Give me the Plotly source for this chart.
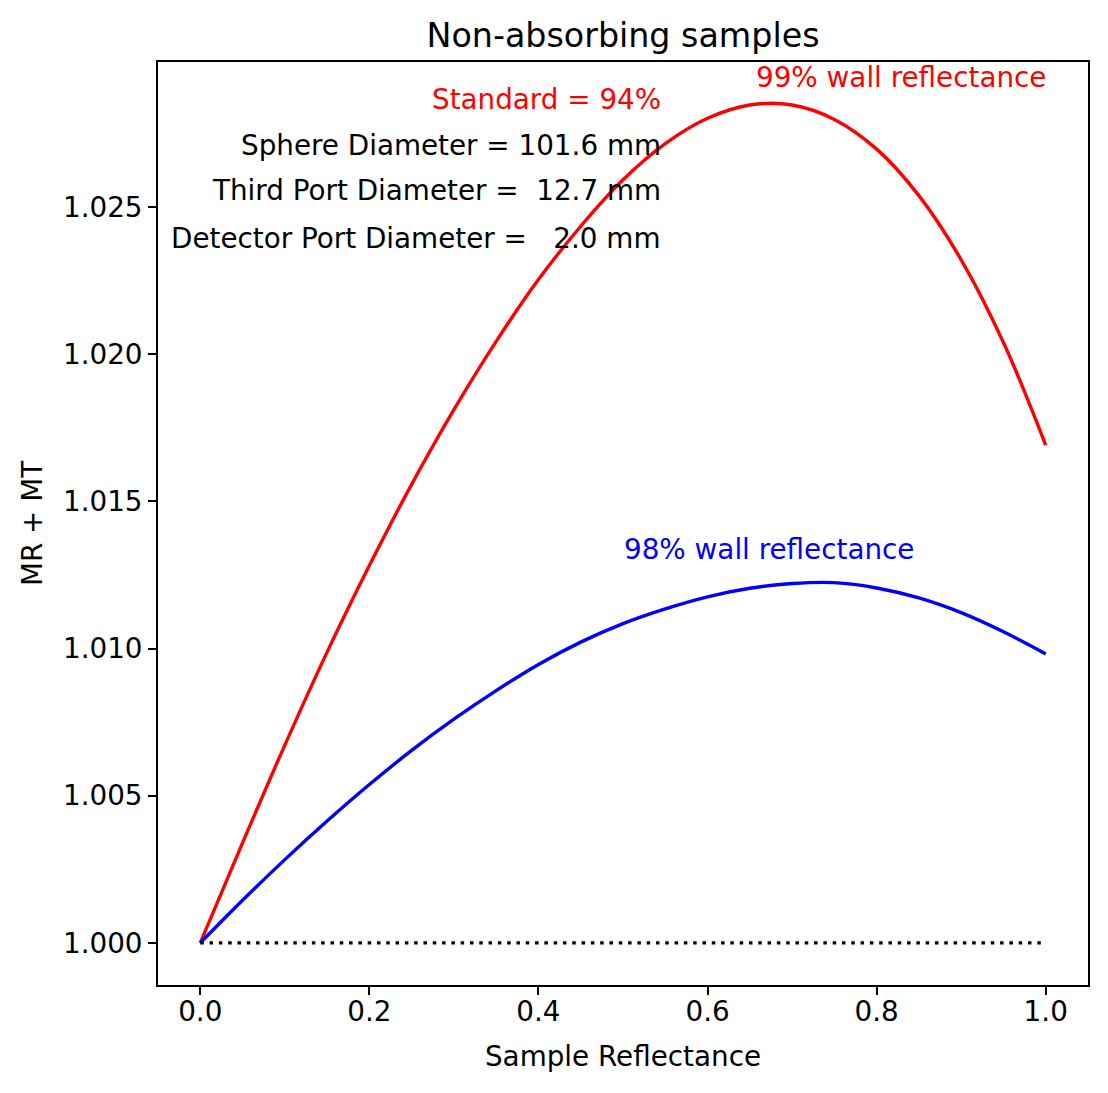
import plotly.graph_objects as go

# Sample reflectance values
sample_reflectance = [0.00, 0.05, 0.10, 0.15, 0.20, 0.25, 0.30, 0.35, 0.40, 0.45, 0.50,
                      0.55, 0.60, 0.65, 0.70, 0.75, 0.80, 0.85, 0.90, 0.95, 1.00]

# MR + MT for 99% wall reflectance
mr_mt_99 = [1.00000, 1.00340, 1.00672, 1.00988, 1.01282, 1.01558, 1.01812, 1.02044,
            1.02254, 1.02435, 1.02593, 1.02716, 1.02802, 1.02847, 1.02847, 1.02798,
            1.02697, 1.02539, 1.02321, 1.02040, 1.01691]

# MR + MT for 98% wall reflectance
mr_mt_98 = [1.00000, 1.00145, 1.00283, 1.00414, 1.00538, 1.00654, 1.00760, 1.00857,
            1.00946, 1.01022, 1.01085, 1.01135, 1.01176, 1.01205, 1.01221, 1.01224,
            1.01206, 1.01172, 1.01122, 1.01057, 1.00982]

baseline_x = [0.0, 1.0]
baseline_y = [1.0, 1.0]

x_ticks = [0.0, 0.2, 0.4, 0.6, 0.8, 1.0]
y_ticks = [1.000, 1.005, 1.010, 1.015, 1.020, 1.025]

info_lines = ["Standard = 94%",
              "Sphere Diameter = 101.6 mm",
              "Third Port Diameter =\u00a0\u00a012.7 mm",
              "Detector Port Diameter =\u00a0\u00a0\u00a02.0 mm"]
info_colors = ["red", "black", "black", "black"]
info_x = 0.5477
info_y = [1.02864, 1.02711, 1.02555, 1.02395]

FONT = "DejaVu Sans"
FS = 27.8

fig = go.Figure()
fig.add_trace(go.Scatter(x=sample_reflectance, y=mr_mt_99, mode="lines",
                         line=dict(color="red", width=3.4, shape="spline", smoothing=1.0),
                         showlegend=False))
fig.add_trace(go.Scatter(x=sample_reflectance, y=mr_mt_98, mode="lines",
                         line=dict(color="blue", width=3.4, shape="spline", smoothing=1.0),
                         showlegend=False))
fig.add_trace(go.Scatter(x=baseline_x, y=baseline_y, mode="lines",
                         line=dict(color="black", width=3.4, dash="3.5px,5.8px"),
                         showlegend=False))

annotations = []
for txt, col, yy in zip(info_lines, info_colors, info_y):
    annotations.append(dict(x=info_x, y=yy, xref="x", yref="y", text=txt, showarrow=False,
                            xanchor="right", yanchor="middle",
                            font=dict(family=FONT, size=FS, color=col)))
annotations.append(dict(x=0.655, y=1.02942, xref="x", yref="y", text="99% wall reflectance",
                        showarrow=False, xanchor="left", yanchor="middle",
                        font=dict(family=FONT, size=FS, color="red")))
annotations.append(dict(x=0.4994, y=1.01335, xref="x", yref="y", text="98% wall reflectance",
                        showarrow=False, xanchor="left", yanchor="middle",
                        font=dict(family=FONT, size=FS, color="blue")))

fig.update_layout(
    width=1108, height=1093,
    margin=dict(l=158, r=20, t=62, b=108),
    paper_bgcolor="white", plot_bgcolor="white",
    font=dict(family=FONT, size=FS, color="black"),
    title=dict(text="Non-absorbing samples", x=0.5623,
               xanchor="center", y=1 - 35 / 1093, yanchor="middle",
               font=dict(family=FONT, size=33.3, color="black")),
    annotations=annotations,
)
fig.update_xaxes(range=[-0.05, 1.05], tickvals=x_ticks, tickformat=".1f",
                 showgrid=False, zeroline=False, showline=True, linecolor="black", linewidth=1.8,
                 mirror=True, ticks="outside", ticklen=8, tickwidth=1.8, tickcolor="black",
                 tickfont=dict(family=FONT, size=FS, color="black"),
                 title=dict(text="Sample Reflectance", font=dict(family=FONT, size=FS), standoff=10))
try:
    fig.update_xaxes(ticklabelstandoff=-7)
    fig.update_xaxes(title_standoff=19)
except Exception:
    pass
fig.update_yaxes(range=[0.99857, 1.02993], tickvals=y_ticks, tickformat=".3f",
                 showgrid=False, zeroline=False, showline=True, linecolor="black", linewidth=1.8,
                 mirror=True, ticks="outside", ticklen=8, tickwidth=1.8, tickcolor="black",
                 tickfont=dict(family=FONT, size=FS, color="black"),
                 title=dict(text="MR + MT", font=dict(family=FONT, size=FS), standoff=12))

fig.write_html("out.html")
